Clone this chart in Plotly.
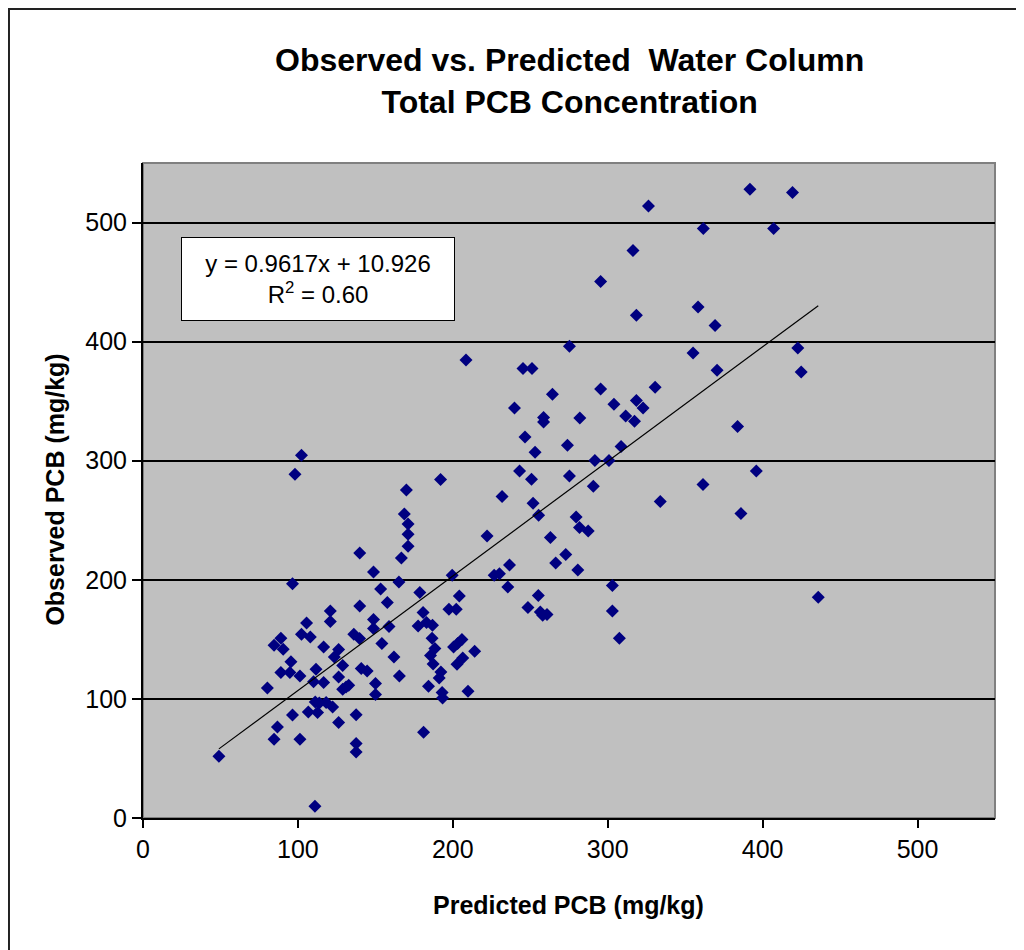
import plotly.graph_objects as go

predicted = [96.5, 105.6, 102.3, 108.0, 89.0, 84.6, 90.5, 95.5, 89.0, 94.8, 101.3, 111.7, 110.1, 80.3,
             111.2, 106.7, 96.5, 86.8, 84.6, 101.3, 49.0, 111.0, 148.8, 165.2, 153.4, 178.7, 204.2, 199.6,
             139.9, 157.7, 120.9, 120.9, 180.8, 197.5, 202.2, 148.8, 148.8, 158.8, 177.6, 183.0, 186.9,
             136.1, 139.8, 154.2, 186.6, 116.6, 126.3, 123.5, 188.4, 185.6, 187.3, 200.5, 205.9, 203.1,
             214.1, 162.0, 206.4, 202.7, 128.9, 140.9, 144.7, 192.3, 191.2, 165.5, 126.3, 116.6, 132.8,
             128.9, 131.1, 150.1, 150.1, 184.3, 193.1, 193.4, 209.8, 113.8, 118.2, 122.4, 112.7, 137.6,
             126.3, 181.1, 137.6, 137.6, 102.3, 98.1, 192.1, 170.0, 168.7, 171.1, 171.1, 171.1, 166.8,
             139.9, 275.3, 208.5, 245.3, 251.1, 330.6, 295.4, 264.3, 239.8, 304.0, 318.5, 322.8, 311.6,
             317.3, 258.6, 258.6, 282.0, 246.6, 274.0, 253.1, 308.6, 291.7, 300.8, 243.1, 250.8, 275.3,
             290.7, 231.8, 251.8, 255.4, 333.9, 279.6, 281.8, 287.4, 222.1, 263.0, 236.6, 226.7, 230.1,
             272.9, 266.4, 280.7, 235.5, 303.0, 255.2, 248.5, 256.5, 260.8, 258.0, 303.0, 307.5, 326.3,
             391.8, 419.3, 361.7, 407.1, 316.3, 295.4, 318.5, 358.3, 369.3, 355.1, 422.7, 424.9, 370.6,
             383.8, 395.9, 361.5, 386.0, 435.9]
observed = [196.8, 163.8, 154.3, 152.0, 150.9, 145.0, 141.7, 131.3, 122.1, 122.1, 119.2, 124.9, 114.5, 109.2,
            97.4, 89.0, 86.5, 76.4, 66.1, 66.1, 51.8, 9.8, 206.6, 198.2, 192.3, 189.3, 186.4, 203.8,
            178.0, 180.9, 173.8, 164.9, 172.5, 175.3, 175.3, 166.6, 159.1, 160.7, 161.2, 164.1, 161.8,
            154.3, 150.7, 146.5, 150.9, 143.6, 141.4, 135.2, 142.3, 136.4, 129.3, 143.6, 149.8, 146.5,
            140.0, 135.2, 134.4, 129.1, 128.0, 125.5, 123.4, 122.6, 117.6, 119.2, 118.4, 113.7, 111.4,
            108.1, 110.0, 112.9, 103.6, 110.6, 105.3, 100.8, 106.4, 96.6, 96.9, 93.2, 88.5, 86.8,
            80.1, 72.0, 62.5, 55.4, 304.6, 288.6, 284.2, 275.4, 255.3, 246.9, 238.2, 228.2, 218.3,
            222.5, 396.1, 384.6, 377.4, 377.4, 361.7, 360.3, 355.8, 344.3, 347.4, 350.5, 344.3, 337.6,
            333.1, 336.2, 332.5, 335.9, 320.0, 313.0, 307.1, 311.9, 300.1, 300.1, 291.4, 284.4, 287.2,
            278.6, 269.9, 264.3, 254.2, 265.7, 252.8, 243.9, 241.0, 236.8, 235.5, 212.5, 203.8, 205.2,
            221.2, 214.1, 208.3, 194.0, 195.2, 186.8, 176.7, 173.0, 170.8, 170.2, 173.8, 150.9, 513.9,
            528.0, 525.2, 495.0, 495.0, 476.5, 450.4, 422.2, 429.1, 413.5, 390.5, 394.7, 374.5, 376.0,
            328.7, 291.4, 280.0, 255.6, 185.3]

slope = 0.9617
intercept = 10.926
r_squared = 0.60
tick_vals = [0, 100, 200, 300, 400, 500]

x_min = min(predicted)
x_max = max(predicted)
trend_x = [x_min, x_max]
trend_y = [slope * v + intercept for v in trend_x]

FONT = "Liberation Sans, Arial, sans-serif"

fig = go.Figure()
fig.add_trace(go.Scatter(x=predicted, y=observed, mode="markers",
                         marker=dict(symbol="diamond", size=10, color="#000080", line=dict(width=0)),
                         showlegend=False, hoverinfo="x+y"))
fig.add_trace(go.Scatter(x=trend_x, y=trend_y, mode="lines",
                         line=dict(color="black", width=1.2), showlegend=False, hoverinfo="skip"))

fig.update_layout(
    width=1024, height=950,
    margin=dict(l=135, r=37, t=155, b=140),
    paper_bgcolor="white",
    plot_bgcolor="#C0C0C0",
    font=dict(family=FONT, size=24, color="black"),
    xaxis=dict(range=[0, 550], tickvals=tick_vals, showgrid=False, zeroline=False,
               showline=True, linecolor="black", linewidth=2,
               ticks="outside", ticklen=8, tickwidth=2, tickcolor="black",
               tickfont=dict(size=25, family=FONT, color="black")),
    yaxis=dict(range=[0, 550], tickvals=tick_vals, showgrid=True, gridcolor="black", gridwidth=1.5,
               zeroline=False, showline=True, linecolor="black", linewidth=2,
               ticks="outside", ticklen=9, tickwidth=2, tickcolor="black",
               tickfont=dict(size=25, family=FONT, color="black")),
    shapes=[
        dict(type="rect", xref="paper", yref="paper", x0=0, x1=1, y0=0, y1=1,
             line=dict(color="#808080", width=2), layer="below"),
        dict(type="rect", xref="paper", yref="paper", x0=-0.1573, x1=1.0505, y0=-0.229, y1=1.2351,
             line=dict(color="#222222", width=2), layer="below"),
    ],
    annotations=[
        dict(text="<b>Observed vs. Predicted  Water Column<br>Total PCB Concentration</b>",
             xref="paper", yref="paper", x=0.5, y=1.1258, xanchor="center", yanchor="middle",
             showarrow=False, font=dict(size=32, family=FONT, color="black")),
        dict(text="<b>Predicted PCB (mg/kg)</b>", xref="paper", yref="paper", x=0.499, y=-0.1334,
             xanchor="center", yanchor="middle", showarrow=False,
             font=dict(size=25, family=FONT, color="black")),
        dict(text="<b>Observed PCB (mg/kg)</b>", xref="paper", yref="paper", x=-0.1037, y=0.5008,
             xanchor="center", yanchor="middle", textangle=-90, showarrow=False,
             font=dict(size=25, family=FONT, color="black")),
        dict(text=f"y = {slope}x + {intercept}<br>R<sup>2</sup> = {r_squared:.2f}",
             xref="paper", yref="paper", x=0.2052, y=0.8232, xanchor="center", yanchor="middle",
             showarrow=False, bgcolor="white", bordercolor="black", borderwidth=1, borderpad=0,
             width=272, height=82, align="center",
             font=dict(size=24, family=FONT, color="black")),
    ],
)

fig.write_html("out.html")
